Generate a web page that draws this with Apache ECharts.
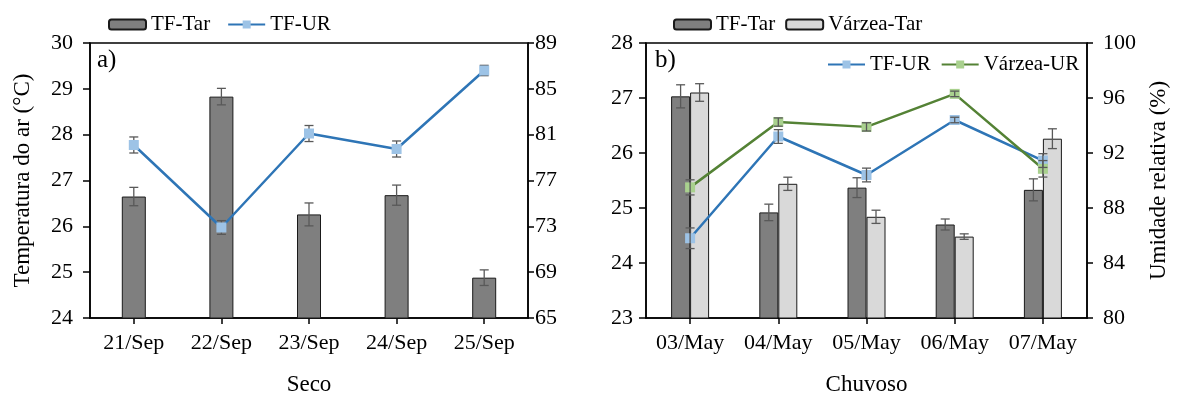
<!DOCTYPE html>
<html>
<head>
<meta charset="utf-8">
<script src="https://cdn.jsdelivr.net/npm/echarts@6/dist/echarts.min.js"></script>
<style>
html,body{margin:0;padding:0;background:#fff;}
#chart{width:1178px;height:401px;}
</style>
</head>
<body>
<div id="chart"></div>
<script>
// ---- Data ----
const sepCats = ['21/Sep', '22/Sep', '23/Sep', '24/Sep', '25/Sep'];
const sepTFTar = [26.65, 28.83, 26.26, 26.68, 24.88];
const sepTFTarErr = [0.2, 0.18, 0.25, 0.22, 0.17];
const sepTFUR = [80.1, 72.9, 81.1, 79.75, 86.6];
const sepTFURErr = [0.7, 0.6, 0.7, 0.7, 0.45];

const mayCats = ['03/May', '04/May', '05/May', '06/May', '07/May'];
const mayTFTar = [27.03, 24.92, 25.37, 24.70, 25.33];
const mayTFTarErr = [0.21, 0.15, 0.18, 0.1, 0.2];
const mayVzTar = [27.10, 25.44, 24.84, 24.48, 26.26];
const mayVzTarErr = [0.16, 0.12, 0.12, 0.05, 0.18];
const mayTFUR = [85.8, 93.2, 90.4, 94.4, 91.45];
const mayTFURErr = [0.75, 0.5, 0.5, 0.2, 0.5];
const mayVzUR = [89.5, 94.25, 93.9, 96.3, 90.85];
const mayVzURErr = [0.55, 0.3, 0.3, 0.2, 0.6];

const tempTicksA = {min: 24, max: 30, interval: 1};
const urTicksA = {min: 65, max: 89, interval: 4};
const tempTicksB = {min: 23, max: 28, interval: 1};
const urTicksB = {min: 80, max: 100, interval: 4};

// ---- Styles ----
const FONT = "'Liberation Serif', 'Times New Roman', serif";
const C_TF_BAR = '#7f7f7f';
const C_VZ_BAR = '#d9d9d9';
const C_TF_LINE = '#2e75b6';
const C_TF_MARK = '#9dc3e6';
const C_VZ_LINE = '#548235';
const C_VZ_MARK = '#a9d18e';
const C_ERR = '#595959';
const BAR_W_A = 24;
const BAR_W_B = 19;

function errData(vals, errs) {
  return vals.map((v, i) => [i, v, errs[i]]);
}
function errRender(offset) {
  return function (params, api) {
    const x = api.value(0), v = api.value(1), e = api.value(2);
    const hi = api.coord([x, v + e]);
    const lo = api.coord([x, v - e]);
    const cx = hi[0] + offset;
    const cap = 4.5;
    const style = {stroke: C_ERR, lineWidth: 1.3};
    return {
      type: 'group',
      children: [
        {type: 'line', shape: {x1: cx, y1: hi[1], x2: cx, y2: lo[1]}, style},
        {type: 'line', shape: {x1: cx - cap, y1: hi[1], x2: cx + cap, y2: hi[1]}, style},
        {type: 'line', shape: {x1: cx - cap, y1: lo[1], x2: cx + cap, y2: lo[1]}, style}
      ]
    };
  };
}

const axisLine = {show: true, lineStyle: {color: '#000', width: 1.5}};
const axisLabel = {color: '#000', fontSize: 22, fontFamily: FONT};
const nameStyle = {color: '#000', fontSize: 23, fontFamily: FONT};
const legendText = {color: '#000', fontSize: 21, fontFamily: FONT};

function xAx(grid, cats, name) {
  return {
    type: 'category', gridIndex: grid, data: cats,
    axisLine,
    axisTick: {show: true, alignWithLabel: true, length: 6, lineStyle: {color: '#000', width: 1.5}},
    axisLabel: Object.assign({}, axisLabel, {margin: 14, interval: 0}),
    name, nameLocation: 'middle', nameGap: 55, nameTextStyle: nameStyle
  };
}
function yAx(grid, t, pos, margin, tickLen, extra) {
  return Object.assign({
    type: 'value', gridIndex: grid, position: pos,
    min: t.min, max: t.max, interval: t.interval,
    splitLine: {show: false},
    axisLine,
    axisTick: {show: true, length: tickLen, lineStyle: {color: '#000', width: 1.5}},
    axisLabel: Object.assign({}, axisLabel, {margin})
  }, extra || {});
}

const option = {
  backgroundColor: '#fff',
  animation: false,
  textStyle: {fontFamily: FONT},
  grid: [
    {left: 90, top: 43, width: 438, height: 283, show: true, borderColor: '#000', borderWidth: 1.5, backgroundColor: 'transparent'},
    {left: 646, top: 43, width: 441, height: 283, show: true, borderColor: '#000', borderWidth: 1.5, backgroundColor: 'transparent'}
  ],
  legend: [
    {left: 103, top: 9, itemWidth: 37, itemHeight: 10, itemGap: 17, data: ['TF-Tar', 'TF-UR'], textStyle: legendText},
    {left: 668, top: 9, itemWidth: 37, itemHeight: 10, itemGap: 10, data: ['TF-Tar', 'Várzea-Tar'], textStyle: legendText},
    {left: 822, top: 49, itemWidth: 37, itemHeight: 10, itemGap: 10, data: ['TF-UR', 'Várzea-UR'], textStyle: legendText}
  ],
  xAxis: [xAx(0, sepCats, 'Seco'), xAx(1, mayCats, 'Chuvoso')],
  yAxis: [
    yAx(0, tempTicksA, 'left', 17, 7, {name: 'Temperatura do ar (°C)', nameLocation: 'middle', nameGap: 56, nameRotate: 90, nameTextStyle: nameStyle}),
    yAx(0, urTicksA, 'right', 7, 6),
    yAx(1, tempTicksB, 'left', 13, 7),
    yAx(1, urTicksB, 'right', 16, 6, {name: 'Umidade relativa (%)', nameLocation: 'middle', nameGap: 60, nameRotate: 90, nameTextStyle: nameStyle})
  ],
  graphic: [
    {type: 'text', left: 97, top: 48, style: {text: 'a)', fontSize: 25, fontFamily: FONT, fill: '#000'}},
    {type: 'text', left: 655, top: 48, style: {text: 'b)', fontSize: 25, fontFamily: FONT, fill: '#000'}}
  ],
  series: [
    // Panel a
    {name: 'TF-Tar', type: 'bar', xAxisIndex: 0, yAxisIndex: 0, data: sepTFTar, barWidth: BAR_W_A, z: 2,
     itemStyle: {color: C_TF_BAR, borderColor: '#1a1a1a', borderWidth: 1}},
    {name: 'errA-bar', type: 'custom', xAxisIndex: 0, yAxisIndex: 0, data: errData(sepTFTar, sepTFTarErr),
     renderItem: errRender(0), z: 3, silent: true},
    {name: 'TF-UR', type: 'line', xAxisIndex: 0, yAxisIndex: 1, data: sepTFUR, z: 4,
     symbol: 'rect', symbolSize: 10, lineStyle: {color: C_TF_LINE, width: 2.5},
     itemStyle: {color: C_TF_MARK}},
    {name: 'errA-line', type: 'custom', xAxisIndex: 0, yAxisIndex: 1, data: errData(sepTFUR, sepTFURErr),
     renderItem: errRender(0), z: 3, silent: true},
    // Panel b
    {name: 'TF-Tar', type: 'bar', xAxisIndex: 1, yAxisIndex: 2, data: mayTFTar, barWidth: BAR_W_B, barGap: '0%', z: 2,
     itemStyle: {color: C_TF_BAR, borderColor: '#1a1a1a', borderWidth: 1}},
    {name: 'Várzea-Tar', type: 'bar', xAxisIndex: 1, yAxisIndex: 2, data: mayVzTar, barWidth: BAR_W_B, barGap: '0%', z: 2,
     itemStyle: {color: C_VZ_BAR, borderColor: '#1a1a1a', borderWidth: 1}},
    {name: 'errB-tf', type: 'custom', xAxisIndex: 1, yAxisIndex: 2, data: errData(mayTFTar, mayTFTarErr),
     renderItem: errRender(-BAR_W_B / 2), z: 3, silent: true},
    {name: 'errB-vz', type: 'custom', xAxisIndex: 1, yAxisIndex: 2, data: errData(mayVzTar, mayVzTarErr),
     renderItem: errRender(BAR_W_B / 2), z: 3, silent: true},
    {name: 'TF-UR', type: 'line', xAxisIndex: 1, yAxisIndex: 3, data: mayTFUR, z: 4,
     symbol: 'rect', symbolSize: 10, lineStyle: {color: C_TF_LINE, width: 2.5},
     itemStyle: {color: C_TF_MARK}},
    {name: 'Várzea-UR', type: 'line', xAxisIndex: 1, yAxisIndex: 3, data: mayVzUR, z: 4,
     symbol: 'rect', symbolSize: 10, lineStyle: {color: C_VZ_LINE, width: 2.5},
     itemStyle: {color: C_VZ_MARK}},
    {name: 'errB-tfur', type: 'custom', xAxisIndex: 1, yAxisIndex: 3, data: errData(mayTFUR, mayTFURErr),
     renderItem: errRender(0), z: 5, silent: true},
    {name: 'errB-vzur', type: 'custom', xAxisIndex: 1, yAxisIndex: 3, data: errData(mayVzUR, mayVzURErr),
     renderItem: errRender(0), z: 5, silent: true}
  ]
};

const chart = echarts.init(document.getElementById('chart'), null, {renderer: 'canvas'});
chart.setOption(option);
</script>
</body>
</html>
